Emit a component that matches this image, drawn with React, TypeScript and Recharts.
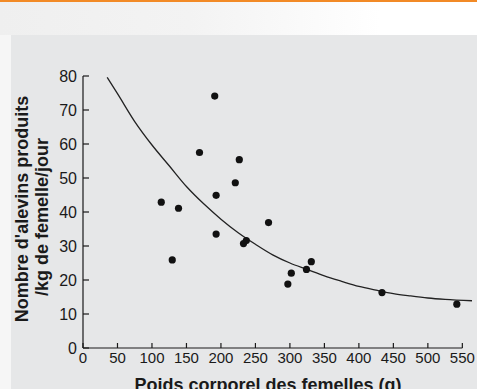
import React from 'react';
import { ComposedChart, Scatter, Line, XAxis, YAxis, ReferenceLine } from 'recharts';

// Poids corporel des femelles (g) — observed points
const poidsFemelles = [113.5, 129.4, 138.5, 168.9, 191, 193, 193, 220.8, 226.6, 232.7, 236.8, 269, 297, 302, 324, 331, 433.5, 542];
// Nombre d'alevins produits /kg de femelle/jour
const alevins = [42.9, 25.9, 41.1, 57.5, 74.1, 44.9, 33.5, 48.6, 55.4, 30.7, 31.6, 36.9, 18.8, 22, 23.1, 25.4, 16.3, 12.9];

// Fitted curve
const courbePoids = [35, 50, 75, 100, 125, 150, 175, 200, 225, 250, 275, 300, 325, 350, 375, 400, 425, 450, 475, 500, 525, 564];
const courbeAlevins = [79.6, 74.8, 66.6, 59.7, 53.6, 47.5, 42.4, 37.9, 33.9, 30.5, 27.4, 25.0, 23.1, 21.2, 19.6, 18.1, 17.0, 16.0, 15.3, 14.7, 14.3, 13.9];

const xTicks = [0, 50, 100, 150, 200, 250, 300, 350, 400, 450, 500, 550];
const yTicks = [0, 10, 20, 30, 40, 50, 60, 70, 80];

const points = poidsFemelles.map((x, i) => ({ x, y: alevins[i] }));
const courbe = courbePoids.map((x, i) => ({ x, y: courbeAlevins[i] }));

const FONT = '"Liberation Sans", Arial, Helvetica, sans-serif';
const INK = '#1a1a1a';

const YTitle = () => (
  <g>
    <text
      transform="translate(28,209) rotate(-90)"
      textAnchor="middle"
      fontFamily={FONT}
      fontWeight="bold"
      fontSize={18}
      fill={INK}
    >
      Nombre d'alevins produits
    </text>
    <text
      transform="translate(48,217) rotate(-90)"
      textAnchor="middle"
      fontFamily={FONT}
      fontWeight="bold"
      fontSize={18}
      fill={INK}
    >
      /kg de femelle/jour
    </text>
  </g>
);

const XTitle = () => (
  <text x={268} y={391} textAnchor="middle" fontFamily={FONT} fontWeight="bold" fontSize={18} fill={INK}>
    Poids corporel des femelles (g)
  </text>
);

const Dot = (props: any) => {
  const { cx, cy } = props;
  if (cx == null || cy == null) return null;
  return <circle cx={cx} cy={cy} r={3.6} fill="#111" />;
};

export default function App() {
  return (
    <div
      style={{
        position: 'absolute',
        left: 0,
        top: 0,
        width: 477,
        height: 389,
        overflow: 'hidden',
        background: '#ffffff',
      }}
    >
      <div
        style={{
          position: 'absolute',
          left: 0,
          top: 2,
          width: 380,
          height: 33,
          background: 'linear-gradient(90deg, #efefef 0%, #f3f3f3 50%, #ffffff 100%)',
        }}
      />
      <div style={{ position: 'absolute', left: 0, top: 35, width: 11, height: 354, background: '#f6f6f6' }} />
      <div style={{ position: 'absolute', left: 0, top: 0, width: 477, height: 2, background: '#f28a26' }} />
      <div style={{ position: 'absolute', left: 11, top: 35, width: 466, height: 354, background: '#e6e7e8' }} />
      <div style={{ position: 'absolute', left: 0, top: 0 }}>
        <ComposedChart width={477} height={389} margin={{ top: 76, right: 5, bottom: 11, left: 23 }}>
          <XAxis
            type="number"
            dataKey="x"
            domain={[0, 564]}
            ticks={xTicks}
            interval={0}
            height={30}
            axisLine={false}
            tickSize={-5}
            tickMargin={9}
            tickLine={{ stroke: INK, strokeWidth: 1.2 }}
            tick={{ fontSize: 15, fill: INK, fontFamily: FONT }}
            label={<XTitle />}
          />
          <YAxis
            type="number"
            dataKey="y"
            domain={[0, 80]}
            ticks={yTicks}
            interval={0}
            width={60}
            tickSize={-6}
            tickMargin={12}
            axisLine={{ stroke: INK, strokeWidth: 1.2 }}
            tickLine={{ stroke: INK, strokeWidth: 1.2 }}
            tick={{ fontSize: 16, fill: INK, fontFamily: FONT }}
            label={<YTitle />}
          />
          <ReferenceLine
            segment={[
              { x: 0, y: 0 },
              { x: 550, y: 0 },
            ]}
            stroke={INK}
            strokeWidth={1.2}
          />
          <Line
            data={courbe}
            dataKey="y"
            type="monotone"
            stroke="#222"
            strokeWidth={1.3}
            dot={false}
            activeDot={false}
            isAnimationActive={false}
          />
          <Scatter data={points} dataKey="y" shape={<Dot />} isAnimationActive={false} />
        </ComposedChart>
      </div>
    </div>
  );
}
